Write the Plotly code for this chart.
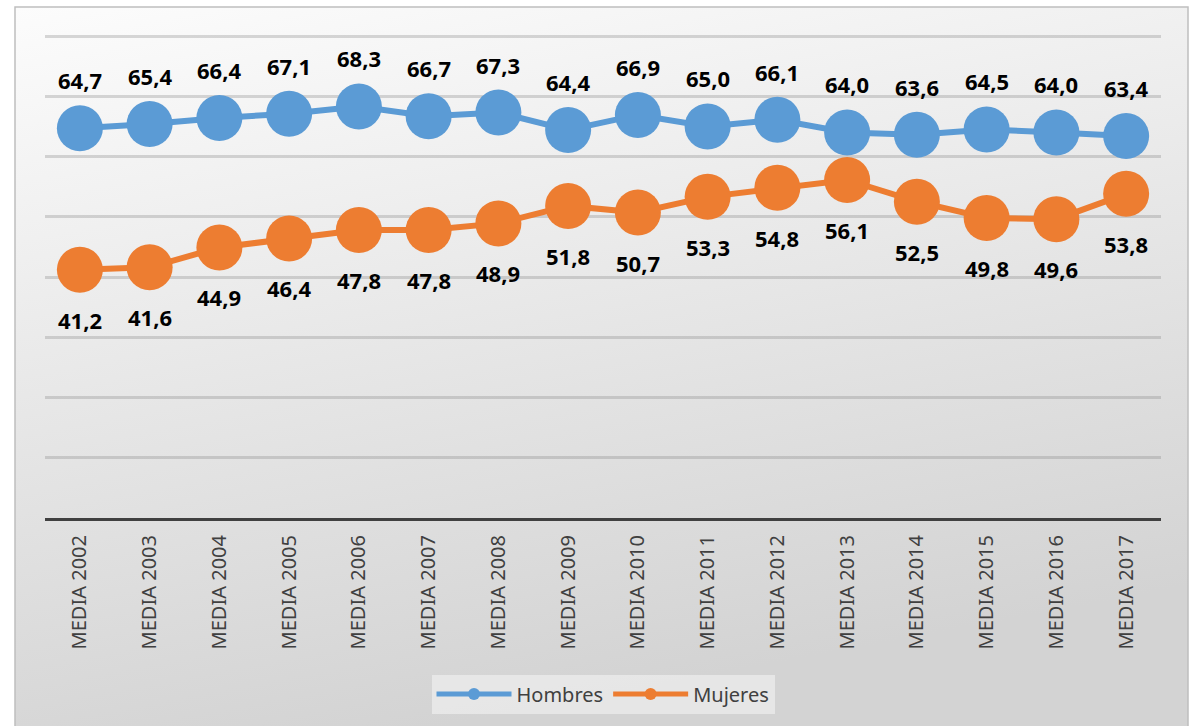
import base64

import plotly.graph_objects as go

# Data
years = [str(y) for y in range(2002, 2018)]
categories = [f"MEDIA {y}" for y in years]
hombres = [64.7, 65.4, 66.4, 67.1, 68.3, 66.7, 67.3, 64.4, 66.9, 65.0, 66.1, 64.0, 63.6, 64.5, 64.0, 63.4]
mujeres = [41.2, 41.6, 44.9, 46.4, 47.8, 47.8, 48.9, 51.8, 50.7, 53.3, 54.8, 56.1, 52.5, 49.8, 49.6, 53.8]

_BLUE = "#5b9bd5"
_ORANGE = "#ed7d31"
_TEXT = "#404040"
_FONT = "Noto Sans"

# Plot area in pixels (1190x726 page)
W, H = 1190, 726
L, R, T, B = 45, 29, 34, 208
PW, PH = W - L - R, H - T - B
Y_MAX = 80 + 2 / 6.025  # a hair above 80 so the top gridline is kept


def px_x(px):
    return (px - L) / PW


def px_y(py):
    return (H - B - py) / PH


# Soft grey gradient used by the chart frame
_svg = (
    '<svg xmlns="http://www.w3.org/2000/svg" viewBox="0 0 100 100" preserveAspectRatio="none">'
    '<defs><linearGradient id="g" x1="0" y1="0" x2="0.3" y2="1">'
    '<stop offset="0" stop-color="#fcfcfc"/><stop offset="1" stop-color="#d3d3d3"/>'
    "</linearGradient></defs>"
    '<rect x="0" y="0" width="100" height="100" fill="url(#g)"/></svg>'
)
_bg = "data:image/svg+xml;base64," + base64.b64encode(_svg.encode()).decode()

fig = go.Figure()
fig.add_trace(
    go.Scatter(
        x=categories,
        y=hombres,
        name="Hombres",
        mode="lines+markers",
        line=dict(color=_BLUE, width=6),
        marker=dict(color=_BLUE, size=46),
    )
)
fig.add_trace(
    go.Scatter(
        x=categories,
        y=mujeres,
        name="Mujeres",
        mode="lines+markers",
        line=dict(color=_ORANGE, width=6),
        marker=dict(color=_ORANGE, size=46),
    )
)

# data labels: men above, women below
for cat, v in zip(categories, hombres):
    fig.add_annotation(
        x=cat, y=v, yshift=48, showarrow=False,
        text="<b>" + f"{v:.1f}".replace(".", ",") + "</b>",
        font=dict(family=_FONT, size=22, color="#000000"),
    )
for cat, v in zip(categories, mujeres):
    fig.add_annotation(
        x=cat, y=v, yshift=-50, showarrow=False,
        text="<b>" + f"{v:.1f}".replace(".", ",") + "</b>",
        font=dict(family=_FONT, size=22, color="#000000"),
    )

x0, x1 = px_x(15), px_x(1188)
y0, y1 = px_y(740), px_y(7)
fig.add_layout_image(
    source=_bg, xref="paper", yref="paper",
    x=x0, y=y1, sizex=x1 - x0, sizey=y1 - y0,
    xanchor="left", yanchor="top", sizing="stretch", layer="below",
)
fig.add_shape(
    type="rect", xref="paper", yref="paper",
    x0=x0, x1=x1, y0=y0, y1=y1,
    line=dict(color="#bfbfbf", width=1.5), layer="below",
)

fig.update_layout(
    width=W,
    height=H,
    margin=dict(l=L, r=R, t=T, b=B),
    paper_bgcolor="#ffffff",
    plot_bgcolor="rgba(0,0,0,0)",
    font=dict(family=_FONT, color=_TEXT),
    showlegend=True,
    legend=dict(
        orientation="h",
        x=0.5,
        xanchor="center",
        y=px_y(694),
        yanchor="middle",
        bgcolor="rgba(245,245,245,0.55)",
        font=dict(family=_FONT, size=20, color=_TEXT),
        itemsizing="constant",
        itemwidth=75,
    ),
)
fig.update_xaxes(
    type="category",
    range=[-0.5, len(categories) - 0.5],
    tickangle=-90,
    tickfont=dict(family=_FONT, size=20, color=_TEXT),
    ticklabelstandoff=6,
    showgrid=False,
    showline=True,
    linecolor="#404040",
    linewidth=3,
    zeroline=False,
)
fig.update_yaxes(
    range=[0, Y_MAX],
    dtick=10,
    showticklabels=False,
    showgrid=True,
    gridcolor="rgba(128,128,128,0.3)",
    gridwidth=2.5,
    zeroline=False,
)

# the page body has an 8px default margin; remove it so the chart fills the window
fig.write_html(
    "out.html",
    config={"displayModeBar": False},
    post_script="document.body.style.margin='0';",
)
